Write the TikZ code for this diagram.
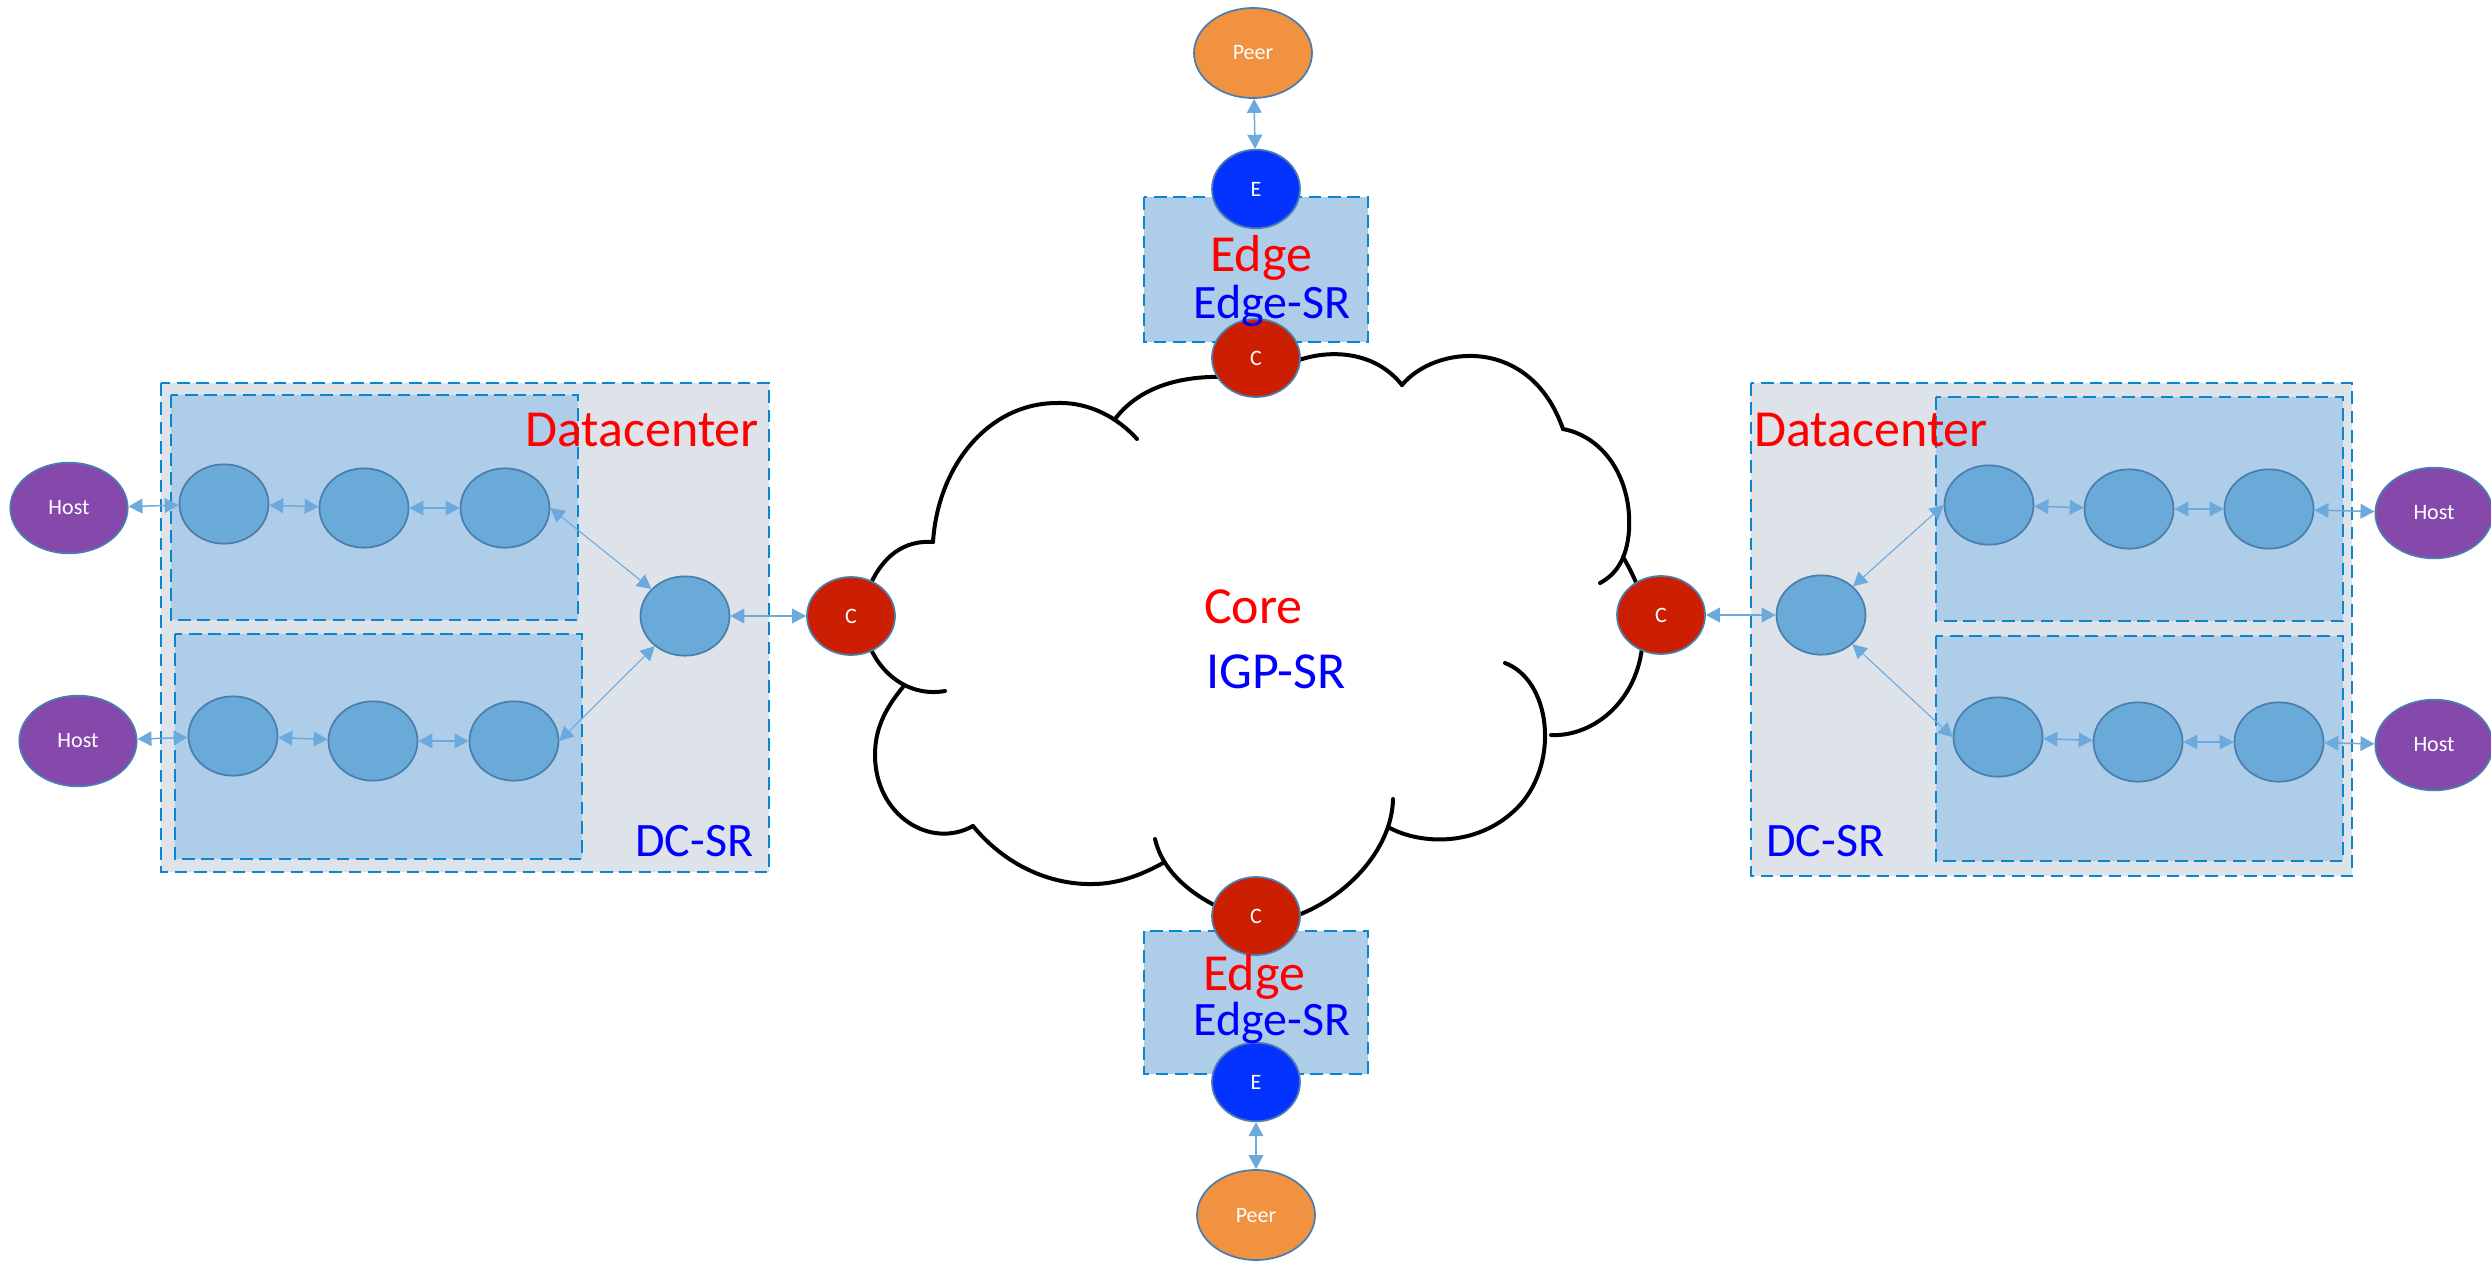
\documentclass[tikz,border=0pt]{standalone}
\usepackage{fontspec}
\setmainfont{Carlito}
\usetikzlibrary{shapes.geometric,arrows.meta}

\definecolor{dcfill}{HTML}{DEE3EA}
\definecolor{podfill}{HTML}{AECDE8}
\definecolor{dashc}{HTML}{0A86D0}
\definecolor{rtfill}{HTML}{6AAAD9}
\definecolor{rtline}{HTML}{4A7EAE}
\definecolor{hostfill}{HTML}{8548AB}
\definecolor{peerfill}{HTML}{F0923F}
\definecolor{corefill}{HTML}{CC1E00}
\definecolor{edgefill}{HTML}{0433FF}
\definecolor{linkc}{HTML}{6CA9DC}

\tikzset{
  zone/.style={draw=dashc, line width=2pt, dash pattern=on 9.5pt off 5pt},
  dczone/.style={zone, fill=dcfill},
  podzone/.style={zone, fill=podfill},
  router/.style={ellipse, draw=rtline, line width=1.3pt, fill=rtfill,
    minimum width=66.75pt, minimum height=59.5pt, inner sep=0pt,
    text=white, font=\fontsize{16.5}{19}\selectfont},
  hostnode/.style={router, fill=hostfill, minimum width=88pt, minimum height=68pt},
  peernode/.style={router, fill=peerfill, minimum width=88.5pt, minimum height=67.5pt},
  corenode/.style={router, fill=corefill, minimum width=66pt, minimum height=58.5pt},
  edgenode/.style={router, fill=edgefill, minimum width=66pt, minimum height=59pt},
  link/.style={draw=linkc, line width=1.1pt, >={Triangle[length=10.5pt,width=11pt]}, <->},
  slant/.style={link, line width=0.8pt},
  cloudline/.style={draw=black, line width=3pt, line cap=round},
  bigtext/.style={font=\fontsize{39}{44}\selectfont, anchor=base west, inner sep=0pt},
  srtext/.style={font=\fontsize{36}{42}\selectfont, anchor=base west, inner sep=0pt},
}

\begin{document}
\begin{tikzpicture}[x=0.75pt, y=-0.75pt]
\useasboundingbox (0,0) rectangle (2491,1261);

% datacenter zones
\draw[dczone] (161,383) rectangle (769,872);
\draw[podzone] (171,395) rectangle (578,620);
\draw[podzone] (175,634) rectangle (582,859);

\draw[dczone] (1751,383) rectangle (2352,876);
\draw[podzone] (1936,397) rectangle (2343,621);
\draw[podzone] (1936,636) rectangle (2343,861);

% edge zones
\draw[podzone] (1144,197) rectangle (1368,342);
\draw[podzone] (1144,931) rectangle (1368,1074);

% core cloud, lobe by lobe
\draw[cloudline] (933,542) .. controls (938,465) and (989,403) .. (1057,403)
                 .. controls (1090,402) and (1118,418) .. (1137,439);
\draw[cloudline] (1115,419) .. controls (1137,390) and (1175,375) .. (1228,377);
\draw[cloudline] (1285,366) .. controls (1315,350) and (1370,345) .. (1402,385);
\draw[cloudline] (1402,385) .. controls (1435,345) and (1530,335) .. (1563,429);
\draw[cloudline] (1563,429) .. controls (1605,437) and (1632,480) .. (1629,530)
                 .. controls (1627,560) and (1615,575) .. (1600,583);
\draw[cloudline] (1623,557) .. controls (1632,572) and (1640,590) .. (1644,605);
\draw[cloudline] (1551,735) .. controls (1590,737) and (1635,705) .. (1642,648);
\draw[cloudline] (1388,827) .. controls (1420,845) and (1480,848) .. (1520,805)
                 .. controls (1560,760) and (1550,680) .. (1505,663);
\draw[cloudline] (1393,799) .. controls (1392,850) and (1345,900) .. (1290,918);
\draw[cloudline] (1155,839) .. controls (1162,870) and (1190,895) .. (1225,910);
\draw[cloudline] (973,826) .. controls (1005,865) and (1050,885) .. (1093,884)
                 .. controls (1120,884) and (1145,873) .. (1163,863);
\draw[cloudline] (903,687) .. controls (884,710) and (875,730) .. (875,755)
                 .. controls (875,815) and (930,850) .. (973,826);
\draw[cloudline] (866,635) .. controls (874,668) and (905,698) .. (945,691);
\draw[cloudline] (933,542) .. controls (905,540) and (882,555) .. (868,590);

% left datacenter
\node[hostnode] (hl1) at (69,508) {Host};
\node[hostnode] (hl2) at (78,741) {Host};
\node[router] (a1) at (224,504) {};
\node[router] (a2) at (364,508) {};
\node[router] (a3) at (505,508) {};
\node[router] (b1) at (233,736) {};
\node[router] (b2) at (373,741) {};
\node[router] (b3) at (514,741) {};
\node[router] (aggl) at (685,616) {};

% core and edge routers
\node[corenode] (cl) at (851,616) {C};
\node[corenode] (cr) at (1661,615) {C};
\node[corenode] (ct) at (1256,358) {C};
\node[corenode] (cb) at (1256,916) {C};
\node[edgenode] (et) at (1256,189) {E};
\node[edgenode] (eb) at (1256,1082) {E};
\node[peernode] (pt) at (1253,53) {Peer};
\node[peernode] (pb) at (1256,1215) {Peer};

% right datacenter
\node[router] (aggr) at (1821,615) {};
\node[router] (r1) at (1989,505) {};
\node[router] (r2) at (2129,509) {};
\node[router] (r3) at (2269,509) {};
\node[router] (s1) at (1998,737) {};
\node[router] (s2) at (2138,742) {};
\node[router] (s3) at (2279,742) {};
\node[hostnode] (hr1) at (2434,513) {Host};
\node[hostnode] (hr2) at (2434,745) {Host};

% links
\draw[link] (hl1) -- (a1);
\draw[link] (a1) -- (a2);
\draw[link] (a2) -- (a3);
\draw[link] (hl2) -- (b1);
\draw[link] (b1) -- (b2);
\draw[link] (b2) -- (b3);
\draw[slant] (a3.east) -- (aggl);
\draw[slant] (b3.east) -- (aggl);
\draw[link] (aggl) -- (cl);

\draw[link] (cr) -- (aggr);
\draw[slant] (aggr) -- (r1.west);
\draw[slant] (aggr) -- (s1.west);
\draw[link] (r1) -- (r2);
\draw[link] (r2) -- (r3);
\draw[link] (r3) -- (hr1);
\draw[link] (s1) -- (s2);
\draw[link] (s2) -- (s3);
\draw[link] (s3) -- (hr2);

\draw[link] (pt) -- (et);
\draw[link] (eb) -- (pb);

% labels
\node[bigtext, text=red] (dcl) at (525,446) {Datacenter};
\node[srtext, text=blue] (srl) at (635,856) {DC-SR};
\node[bigtext, text=red] (dcr) at (1754,446) {Datacenter};
\node[srtext, text=blue] (srr) at (1766,856) {DC-SR};
\node[bigtext, text=red] (edt) at (1210,271) {Edge};
\node[srtext, text=blue] (est) at (1193,318) {Edge-SR};
\node[bigtext, text=red] (edb) at (1203,990) {Edge};
\node[srtext, text=blue] (esb) at (1193,1035) {Edge-SR};
\node[bigtext, text=red] (core) at (1204,623) {Core};
\node[bigtext, text=blue] (igp) at (1206,688) {IGP-SR};
\end{tikzpicture}
\end{document}
